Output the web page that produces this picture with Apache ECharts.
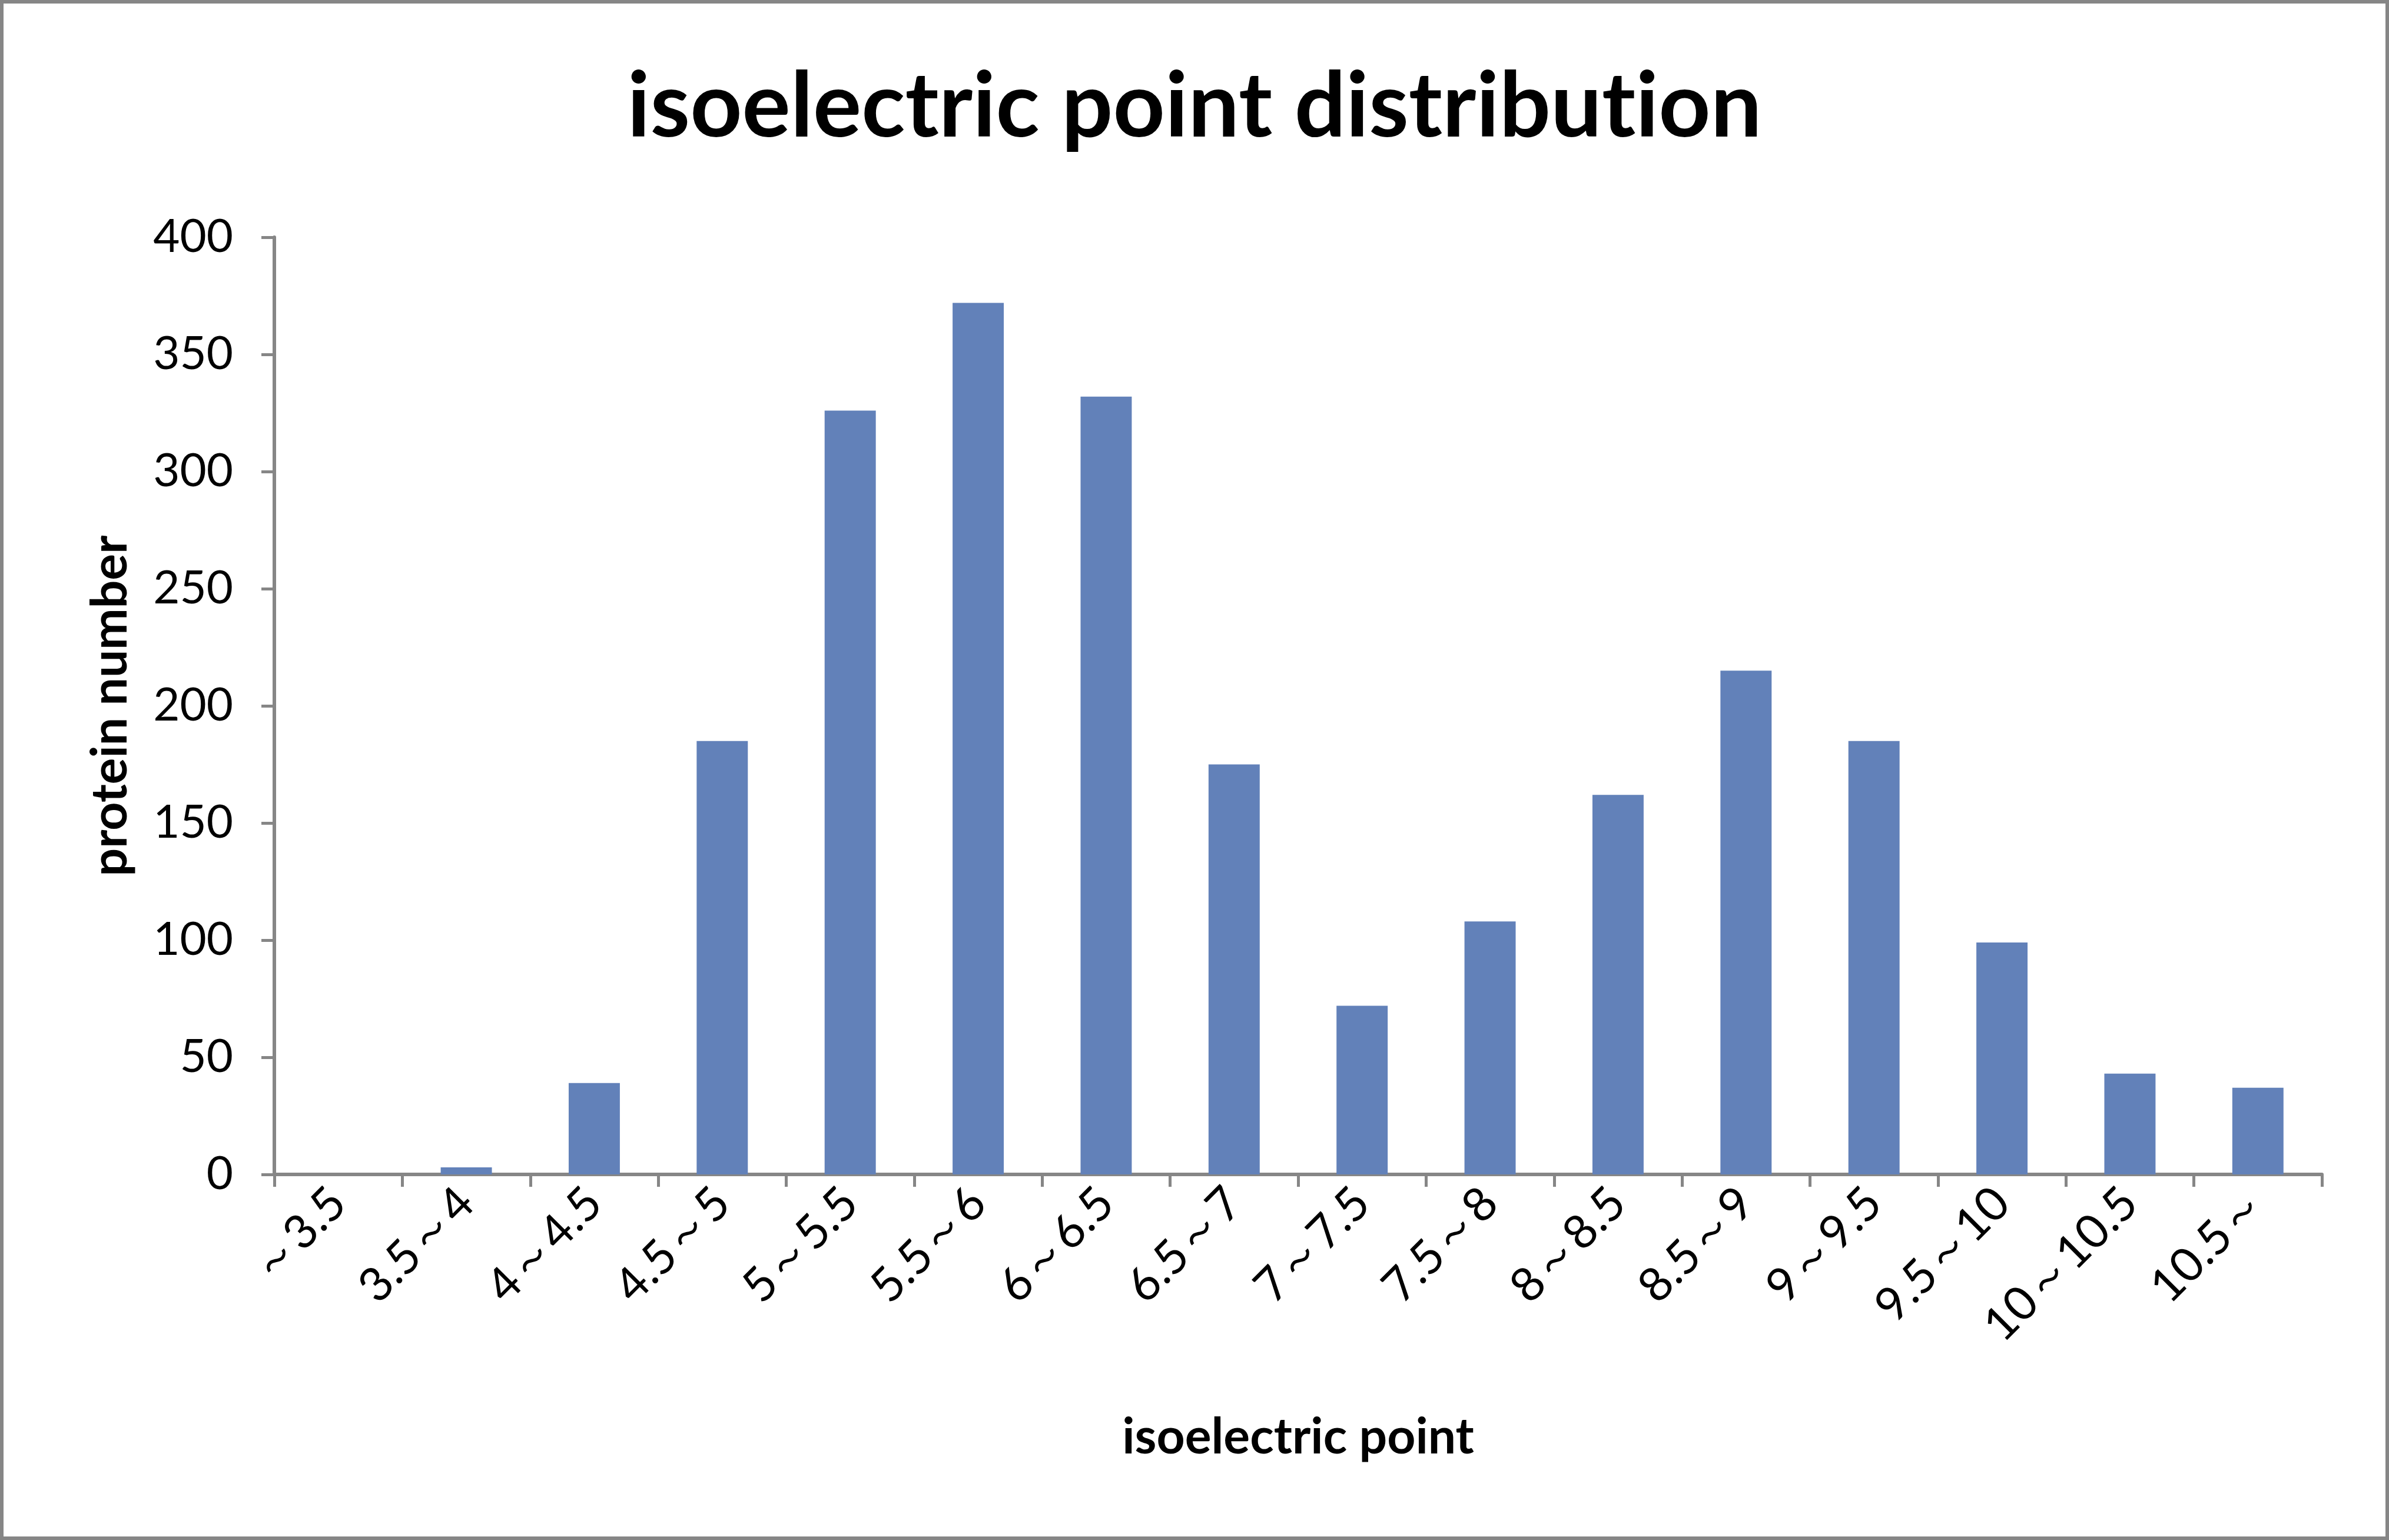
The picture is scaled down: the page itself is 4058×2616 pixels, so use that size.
<!DOCTYPE html>
<html>
<head>
<meta charset="utf-8">
<title>isoelectric point distribution</title>
<script src="https://cdn.jsdelivr.net/npm/echarts@6/dist/echarts.min.js"></script>
<style>
  html, body { margin: 0; padding: 0; background: #fff; }
  #main { width: 4058px; height: 2616px; }
</style>
</head>
<body>
<div id="main"></div>
<script>
// 等电点区间
var categories = ['～3.5', '3.5～4', '4～4.5', '4.5～5', '5～5.5', '5.5～6', '6～6.5', '6.5～7',
  '7～7.5', '7.5～8', '8～8.5', '8.5～9', '9～9.5', '9.5～10', '10～10.5', '10.5～']
// 蛋白数量
var proteinCounts = [0, 3, 39, 185, 326, 372, 332, 175, 72, 108, 162, 215, 185, 99, 43, 37]
// y轴刻度
var yMin = 0
var yMax = 400
var yStep = 50

var axisColor = '#868686'
var fontName = 'Lato'

var chart = echarts.init(document.getElementById('main'))

var option = {
  backgroundColor: '#fff',
  animation: false,
  title: {
    // 在 t 和 i 之间分段, 避免 Lato 的 "ti" 连字
    text: '{a|isoelectric point distribut}{b|ion}',
    left: 'center',
    top: 100,
    textStyle: {
      fontFamily: fontName,
      fontWeight: 'bold',
      fontSize: 154,
      color: '#000',
      rich: {
        a: { fontFamily: fontName, fontWeight: 'bold', fontSize: 154, color: '#000' },
        b: { fontFamily: fontName, fontWeight: 'bold', fontSize: 154, color: '#010101' }
      }
    }
  },
  graphic: [{
    type: 'rect',
    shape: { x: 3, y: 3, width: 4052, height: 2610 },
    style: { fill: 'none', stroke: axisColor, lineWidth: 6 },
    silent: true
  }],
  grid: {
    left: 466,
    right: 114,
    top: 403,
    bottom: 621
  },
  xAxis: {
    type: 'category',
    data: categories,
    name: 'isoelectric point',
    nameLocation: 'middle',
    nameGap: 405,
    nameTextStyle: {
      fontFamily: fontName,
      fontWeight: 'bold',
      fontSize: 84,
      color: '#000'
    },
    axisLine: { lineStyle: { color: axisColor, width: 6 } },
    axisTick: { show: true, length: 21, lineStyle: { color: axisColor, width: 5 } },
    axisLabel: {
      rotate: 45,
      margin: 36,
      interval: 0,
      fontFamily: fontName,
      fontSize: 80,
      color: '#000'
    }
  },
  yAxis: {
    type: 'value',
    min: yMin,
    max: yMax,
    interval: yStep,
    name: 'protein number',
    nameLocation: 'middle',
    nameGap: 236,
    nameTextStyle: {
      fontFamily: fontName,
      fontWeight: 'bold',
      fontSize: 84,
      color: '#000'
    },
    splitLine: { show: false },
    axisLine: { show: true, lineStyle: { color: axisColor, width: 6 } },
    axisTick: { show: true, length: 22, lineStyle: { color: axisColor, width: 5 } },
    axisLabel: {
      margin: 70,
      fontFamily: fontName,
      fontSize: 78,
      color: '#000'
    }
  },
  series: [{
    type: 'bar',
    data: proteinCounts,
    barCategoryGap: '60%',
    itemStyle: { color: '#6281B9' }
  }]
}

chart.setOption(option)
</script>
</body>
</html>
